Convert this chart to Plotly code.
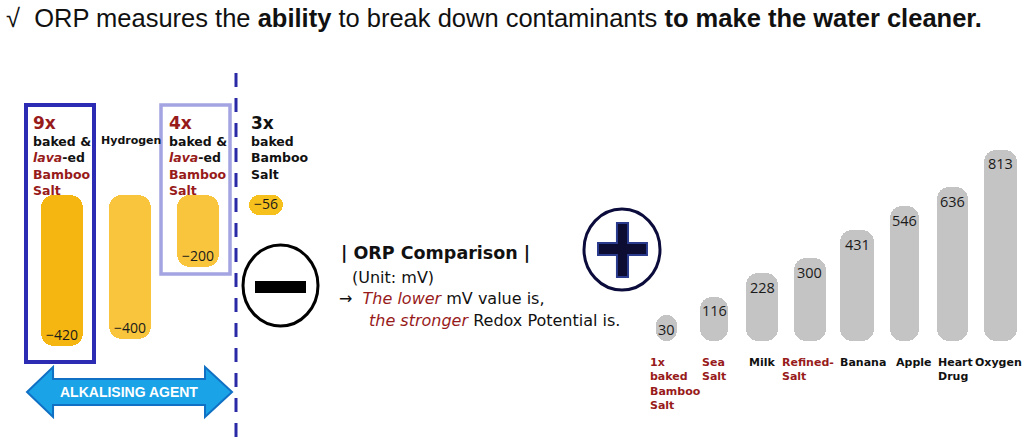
import plotly.graph_objects as go

# ---------------- data ----------------
NEG_CATS = ["9x baked & lava-ed Bamboo Salt", "Hydrogen",
            "4x baked & lava-ed Bamboo Salt", "3x baked Bamboo Salt"]
NEG_VALUES = [-420, -400, -200, -56]
NEG_HEADERS = ["9x", "", "4x", "3x"]

POS_CATS = ["1x baked Bamboo Salt", "Sea Salt", "Milk", "Refined-Salt",
            "Banana", "Apple", "Heart Drug", "Oxygen"]
POS_VALUES = [30, 116, 228, 300, 431, 546, 636, 813]
POS_LABELS = ["1x<br>baked<br>Bamboo<br>Salt", "Sea<br>Salt", "Milk", "Refined-<br>Salt",
              "Banana", "Apple", "Heart<br>Drug", "Oxygen"]

TITLE = ("\u221a\u00a0\u00a0ORP measures the <b>ability</b> to break down contaminants "
         "<b>to make the water cleaner.</b>")

# ---------------- styles ----------------
W, H = 1024, 445
RED = "#981b1b"
VERD = "DejaVu Sans, Verdana, sans-serif"
NUMF = "Open Sans, Segoe UI, sans-serif"
NEG_COLORS = ["#f5b611", "#f8c53c", "#f8c53c", "#f6c11c"]
NEG_WIDTHS = [0.62, 0.63, 0.62, 0.49]
NEG_LABEL_RED = [True, False, True, False]
NEG_LABEL_XSHIFT = [-31, -31, -31, -17]
POS_COLOR = "#c4c4c4"
POS_WIDTHS = [0.44, 0.59, 0.67, 0.67, 0.71, 0.61, 0.65, 0.69]
POS_LABEL_RED = [True, True, False, True, False, False, False, False]
POS_LABEL_XSHIFT = [9, 0, 0, -2, 6, 9, 3, -2]

NEG_BASE_PX, NEG_SCALE = 195, 0.36      # pixel row of 0 mV, px per mV
POS_BASE_PX, POS_SCALE, POS_PAD = 341, 0.211, 93


def px(x):
    return x / W


def py(y):
    return 1 - y / H


neg_range = [-(H - NEG_BASE_PX) / NEG_SCALE, NEG_BASE_PX / NEG_SCALE]
pos_range = [-POS_PAD - (H - POS_BASE_PX) / POS_SCALE, -POS_PAD + POS_BASE_PX / POS_SCALE]

fig = go.Figure()

# negative bars hang from 0 (explicit base -> both ends rounded)
fig.add_trace(go.Bar(x=NEG_CATS, y=NEG_VALUES, base=0, width=NEG_WIDTHS,
                     marker=dict(color=NEG_COLORS, line_width=0, cornerradius=13),
                     xaxis="x", yaxis="y", hoverinfo="skip", showlegend=False))

# positive bars rise from a common foot below zero
fig.add_trace(go.Bar(x=POS_CATS, y=[v + POS_PAD for v in POS_VALUES], base=-POS_PAD,
                     width=POS_WIDTHS,
                     marker=dict(color=POS_COLOR, line_width=0, cornerradius=12),
                     xaxis="x2", yaxis="y2", hoverinfo="skip", showlegend=False))

ann = []
# value labels
for c, v in zip(NEG_CATS, NEG_VALUES):
    ann.append(dict(x=c, y=v, xref="x", yref="y", text=str(v).replace("-", "\u2212"),
                    showarrow=False, yshift=12, font=dict(family=NUMF, size=14, color="#1a1a1a")))
for c, v in zip(POS_CATS, POS_VALUES):
    ann.append(dict(x=c, y=v, xref="x2", yref="y2", text=str(v),
                    showarrow=False, yshift=-14, font=dict(family=NUMF, size=14.5, color="#1a1a1a")))

# negative category labels
for i, c in enumerate(NEG_CATS):
    if NEG_HEADERS[i]:
        ann.append(dict(x=c, y=py(123), xref="x", yref="paper", text="<b>%s</b>" % NEG_HEADERS[i],
                        xanchor="left", yanchor="middle", showarrow=False, xshift=NEG_LABEL_XSHIFT[i],
                        font=dict(family=VERD, size=17, color=RED if NEG_LABEL_RED[i] else "#111")))
    if c == "Hydrogen":
        body = "<b>Hydrogen</b>"
        size = 11
    elif "lava" in c:
        body = ("<b>baked &amp;<br><span style='color:%s'><i>lava</i></span>-ed<br>"
                "<span style='color:%s'>Bamboo<br>Salt</span></b>" % (RED, RED))
        size = 12.5
    else:
        body = "<b>baked<br>Bamboo<br>Salt</b>"
        size = 12.5
    ann.append(dict(x=c, y=py(132), xref="x", yref="paper", text=body, align="left",
                    xanchor="left", yanchor="top", showarrow=False, xshift=NEG_LABEL_XSHIFT[i],
                    font=dict(family=VERD, size=size, color="#111")))

# positive category labels
for i, (c, lab) in enumerate(zip(POS_CATS, POS_LABELS)):
    ann.append(dict(x=c, y=py(354), xref="x2", yref="paper", text="<b>%s</b>" % lab,
                    align="left", xanchor="center", yanchor="top", showarrow=False,
                    xshift=POS_LABEL_XSHIFT[i],
                    font=dict(family=VERD, size=11, color=RED if POS_LABEL_RED[i] else "#111")))

# title and middle text
ann.append(dict(x=px(4), y=py(18), xref="paper", yref="paper", text=TITLE, xanchor="left",
                yanchor="middle", showarrow=False,
                font=dict(family="Liberation Sans, Arial, sans-serif", size=25.5, color="#111")))
ann.append(dict(x=px(339), y=py(253), xref="paper", yref="paper", text="<b>| ORP Comparison |</b>",
                xanchor="left", yanchor="middle", showarrow=False,
                font=dict(family=VERD, size=17.5, color="#111")))
ann.append(dict(x=px(350), y=py(277), xref="paper", yref="paper", text="(Unit: mV)",
                xanchor="left", yanchor="middle", showarrow=False,
                font=dict(family=VERD, size=16, color="#111")))
ann.append(dict(x=px(337), y=py(298), xref="paper", yref="paper",
                text="\u2192\u00a0\u00a0<span style='color:%s'><i>The lower</i></span> mV value is," % RED,
                xanchor="left", yanchor="middle", showarrow=False,
                font=dict(family=VERD, size=16, color="#111")))
ann.append(dict(x=px(367), y=py(320), xref="paper", yref="paper",
                text="<span style='color:%s'><i>the stronger</i></span> Redox Potential is." % RED,
                xanchor="left", yanchor="middle", showarrow=False,
                font=dict(family=VERD, size=16, color="#111")))
ann.append(dict(x=px(129), y=py(392), xref="paper", yref="paper", text="<b>ALKALISING AGENT</b>",
                xanchor="center", yanchor="middle", showarrow=False,
                font=dict(family="Liberation Sans, Arial, sans-serif", size=14, color="white")))


def path(points):
    return "M" + " L".join("%.4f,%.4f" % (px(a), py(b)) for a, b in points) + " Z"


shapes = [
    dict(type="rect", xref="paper", yref="paper", x0=px(26), x1=px(94), y0=py(105), y1=py(362),
         line=dict(color="#2b2bb3", width=4)),
    dict(type="rect", xref="paper", yref="paper", x0=px(161), x1=px(230), y0=py(105), y1=py(274),
         line=dict(color="#a4a4e2", width=3.5)),
    dict(type="line", xref="paper", yref="paper", x0=px(236), x1=px(236), y0=py(73), y1=py(445),
         line=dict(color="#2a2aa6", width=3, dash="14px,11px")),
    dict(type="circle", xref="paper", yref="paper", x0=px(243), x1=px(318), y0=py(245), y1=py(326),
         line=dict(color="#000", width=3)),
    dict(type="rect", xref="paper", yref="paper", x0=px(255), x1=px(306), y0=py(281), y1=py(293),
         fillcolor="#000", line=dict(width=0)),
    dict(type="circle", xref="paper", yref="paper", x0=px(584), x1=px(660), y0=py(209), y1=py(290),
         line=dict(color="#0c0c3c", width=3)),
    dict(type="path", xref="paper", yref="paper",
         path=path([(617, 223), (628, 223), (628, 243), (647, 243), (647, 255), (628, 255),
                    (628, 277), (617, 277), (617, 255), (598, 255), (598, 243), (617, 243)]),
         fillcolor="#0d0d33", line=dict(color="#2a3a8c", width=2)),
    dict(type="path", xref="paper", yref="paper",
         path=path([(27, 392), (53, 367), (53, 379), (205, 379), (205, 367), (232, 392),
                    (205, 417), (205, 405), (53, 405), (53, 417)]),
         fillcolor="#1ba3e8", line=dict(color="#1070c4", width=2)),
]

ax_off = dict(visible=False, fixedrange=True, showgrid=False, zeroline=False)
fig.update_layout(
    width=W, height=H, autosize=False,
    margin=dict(l=0, r=0, t=0, b=0, pad=0),
    paper_bgcolor="white", plot_bgcolor="rgba(0,0,0,0)",
    barmode="overlay", bargap=0, showlegend=False, hovermode=False,
    xaxis=dict(domain=[px(28), px(300)], type="category", categoryorder="array",
               categoryarray=NEG_CATS, range=[-0.5, 3.5], anchor="y", **ax_off),
    yaxis=dict(domain=[0, 1], range=neg_range, anchor="x", **ax_off),
    xaxis2=dict(domain=[px(643), 1], type="category", categoryorder="array",
                categoryarray=POS_CATS, range=[-0.5, 7.5], anchor="y2", **ax_off),
    yaxis2=dict(domain=[0, 1], range=pos_range, anchor="x2", **ax_off),
    annotations=ann, shapes=shapes,
)

fig.write_html("out.html")
